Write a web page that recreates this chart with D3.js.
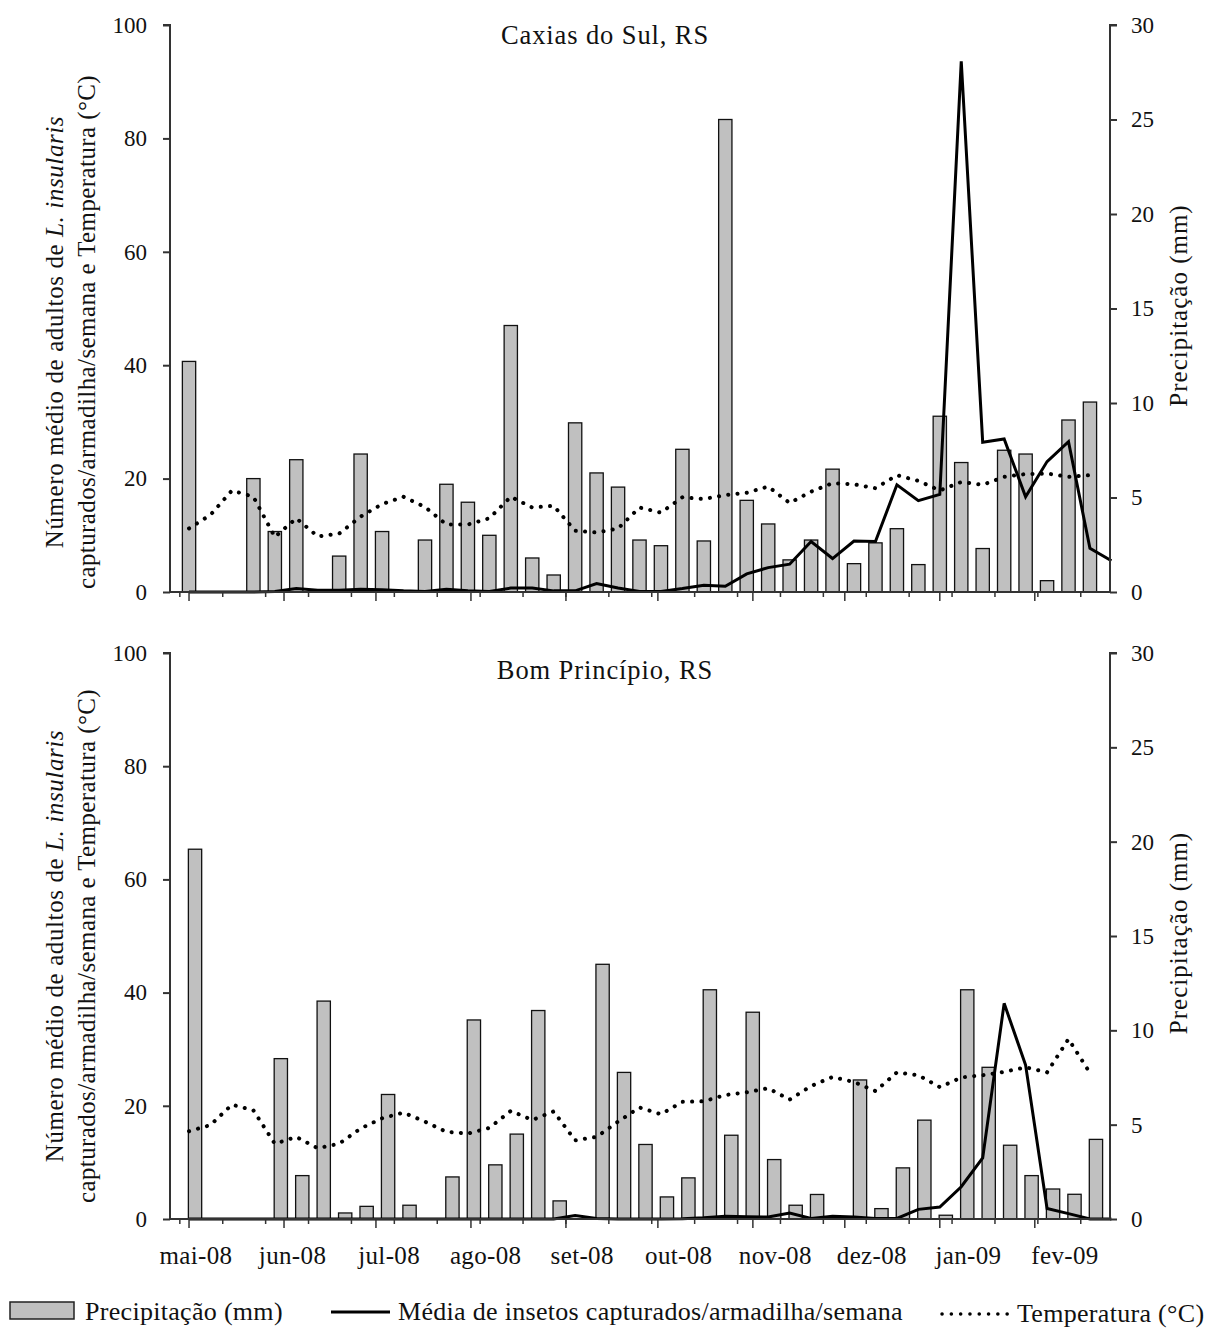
<!DOCTYPE html>
<html><head><meta charset="utf-8">
<script src="https://cdn.jsdelivr.net/npm/d3@7"></script>
<style>
body{margin:0;background:#fff}
svg text{font-family:"Liberation Serif","Times New Roman",serif;fill:#111}
</style>
</head><body>
<svg id="c" width="1206" height="1328"></svg>
<script>
// ---------- data ----------
const monthLabels = ["mai-08","jun-08","jul-08","ago-08","set-08","out-08","nov-08","dez-08","jan-09","fev-09"];
const leftTicks = [0,20,40,60,80,100];
const rightTicks = [0,5,10,15,20,25,30];
const panelTitles = ["Caxias do Sul, RS","Bom Princípio, RS"];
const legendLabels = ["Precipitação (mm)","Média de insetos capturados/armadilha/semana","Temperatura (°C)"];
const firstWeek = new Date(Date.UTC(2008,4,1));

// weekly precipitation (mm), right axis
const precipCaxias = [12.2,0,0,6.0,3.2,7.0,0,1.9,7.3,3.2,0,2.75,5.7,4.75,3.0,14.1,1.8,0.9,8.95,6.3,5.55,
  2.75,2.45,7.55,2.7,25.0,4.85,3.6,1.7,2.75,6.5,1.5,2.6,3.35,1.45,9.3,6.85,2.3,7.5,7.3,0.6,9.1,10.05];
// mean insects / trap / week, left axis
const insectsCaxias = [0,0,0,0,0.1,0.6,0.3,0.3,0.5,0.4,0.2,0.1,0.5,0.2,0.1,0.7,0.7,0.2,0.2,1.5,0.7,
  0.1,0.1,0.6,1.2,1.0,3.2,4.3,4.9,8.9,5.9,9.0,8.9,18.9,16.1,17.2,93.6,26.4,27.0,16.8,23.0,26.5,7.7,5.5];
// temperature (°C), left axis
const tempCaxias = [11.2,13.6,17.9,16.8,9.7,13.0,9.8,10.3,13.3,15.5,16.8,15.0,11.9,11.9,13.0,16.8,14.9,15.2,10.8,10.5,11.2,
  14.9,14.0,16.7,16.4,17.1,17.5,18.6,15.7,17.7,19.2,19.0,18.3,20.6,19.6,17.9,19.4,18.9,20.3,20.8,20.9,20.3,20.6];

const precipBom = [19.6,0,0,0,8.5,2.3,11.55,0.32,0.67,6.6,0.73,0,2.23,10.55,2.87,4.5,11.05,0.96,0,13.5,7.77,
  3.95,1.17,2.18,12.15,4.44,10.96,3.15,0.73,1.3,0,7.37,0.55,2.71,5.24,0.2,12.15,8.04,3.91,2.3,1.59,1.31,4.22];
const insectsBom = [0,0,0,0,0,0,0,0,0,0,0,0,0,0,0,0,0,0,0.6,0.1,0,
  0,0,0.05,0.2,0.5,0.4,0.35,1.05,0.1,0.5,0.35,0.1,0.1,1.7,2.1,5.7,10.8,38.1,27.2,1.85,0.95,0,0];
const tempBom = [15.5,16.6,20.2,19.2,13.3,14.5,12.5,13.3,16.0,17.8,18.8,17.2,15.4,15.1,16.1,19.1,17.5,19.0,13.9,14.5,17.2,
  19.7,18.5,20.7,20.8,21.9,22.4,23.1,21.1,23.5,25.1,24.2,22.6,25.9,25.4,23.3,25.0,25.4,26.0,26.8,25.9,31.8,25.8];

// ---------- layout ----------
const svg = d3.select("#c");
const X0 = 170, X1 = 1110;
const week = i => d3.utcDay.offset(firstWeek, 7*i);
const x = d3.scaleUtc()
  .domain([d3.utcHour.offset(firstWeek, -149), d3.utcHour.offset(firstWeek, 7213)])
  .range([X0, X1]);
const monthTicks = d3.utcMonth.range(firstWeek, x.domain()[1]);
const minorTicks = d3.range(0, 22).map(k => d3.utcDay.offset(firstWeek, -3 + 14*k));
const labelX = d3.scalePoint().domain(monthLabels).range([196, 1065]);
const axisColor = "#333";

const panels = [
  {title: panelTitles[0], top: 25, bottom: 592, precip: precipCaxias, insects: insectsCaxias, temp: tempCaxias, barShift: 0, titleY: 332, headY: 43.5},
  {title: panelTitles[1], top: 653, bottom: 1219, precip: precipBom, insects: insectsBom, temp: tempBom, barShift: 6, titleY: 946, headY: 679}
];

panels.forEach((p, pi) => {
  const g = svg.append("g");
  const yL = d3.scaleLinear().domain([0,100]).range([p.bottom, p.top]);
  const yR = d3.scaleLinear().domain([0,30]).range([p.bottom, p.top]);
  const bw = 13.3;

  // bars
  g.append("g").selectAll("rect").data(p.precip).join("rect")
    .attr("x", (d,i) => x(week(i)) + p.barShift - bw/2)
    .attr("y", d => yR(d))
    .attr("width", bw)
    .attr("height", d => yR(0) - yR(d))
    .attr("fill", "#c0c0c0")
    .attr("stroke", "#111")
    .attr("stroke-width", 1.3);

  // temperature dotted line
  g.append("path").datum(p.temp)
    .attr("d", d3.line().x((d,i) => x(week(i))).y(d => yL(d)))
    .attr("fill", "none").attr("stroke", "#000")
    .attr("stroke-width", 4).attr("stroke-linecap", "round")
    .attr("stroke-dasharray", "0.1,9.2");

  // insects solid line
  g.append("path").datum(p.insects)
    .attr("d", d3.line().x((d,i) => x(week(i))).y(d => yL(d)))
    .attr("fill", "none").attr("stroke", "#000")
    .attr("stroke-width", 3).attr("stroke-linejoin", "miter");

  // x axis
  const xa = g.append("g");
  xa.append("line").attr("x1", X0).attr("x2", X1).attr("y1", p.bottom).attr("y2", p.bottom)
    .attr("stroke", axisColor).attr("stroke-width", 2);
  xa.selectAll("line.mi").data(minorTicks).join("line").attr("class","mi")
    .attr("x1", d => x(d)).attr("x2", d => x(d)).attr("y1", p.bottom).attr("y2", p.bottom + 5)
    .attr("stroke", axisColor).attr("stroke-width", 1.5);
  xa.selectAll("line.ma").data(monthTicks).join("line").attr("class","ma")
    .attr("x1", d => x(d)).attr("x2", d => x(d)).attr("y1", p.bottom).attr("y2", p.bottom + 9)
    .attr("stroke", axisColor).attr("stroke-width", 1.5);
  if (pi === 1) {
    xa.selectAll("text").data(monthLabels).join("text")
      .attr("x", d => labelX(d)).attr("y", p.bottom + 45)
      .attr("text-anchor", "middle").attr("font-size", 25).attr("letter-spacing", 0.35).text(d => d);
  }

  // left axis
  const la = g.append("g").attr("transform", `translate(${X0},0)`)
    .call(d3.axisLeft(yL).tickValues(leftTicks).tickSize(7).tickPadding(16).tickFormat(d3.format("d")));
  la.select(".domain").attr("stroke", axisColor).attr("stroke-width", 2).attr("d", `M-7,${p.top}H0V${p.bottom}`);
  la.selectAll(".tick line").attr("stroke", axisColor).attr("stroke-width", 2);
  la.selectAll(".tick text").attr("font-size", 23).attr("font-family", "Liberation Serif").attr("fill", "#111");

  // right axis
  const ra = g.append("g").attr("transform", `translate(${X1},0)`)
    .call(d3.axisRight(yR).tickValues(rightTicks).tickSize(7).tickPadding(14).tickFormat(d3.format("d")));
  ra.select(".domain").attr("stroke", axisColor).attr("stroke-width", 2).attr("d", `M7,${p.top}H0V${p.bottom}`);
  ra.selectAll(".tick line").attr("stroke", axisColor).attr("stroke-width", 2);
  ra.selectAll(".tick text").attr("font-size", 23).attr("font-family", "Liberation Serif").attr("fill", "#111");

  // panel title
  g.append("text").attr("x", 605).attr("y", p.headY).attr("text-anchor", "middle")
    .attr("font-size", 26.5).attr("letter-spacing", 0.9).text(p.title);

  // left axis title (two lines)
  const t1 = g.append("text").attr("transform", `translate(63,${p.titleY}) rotate(-90)`)
    .attr("text-anchor", "middle").attr("font-size", 25).attr("letter-spacing", 0.6);
  t1.append("tspan").text("Número médio de adultos de ");
  t1.append("tspan").attr("font-style", "italic").text("L. insularis");
  g.append("text").attr("transform", `translate(95,${p.titleY}) rotate(-90)`)
    .attr("text-anchor", "middle").attr("font-size", 25).attr("letter-spacing", 0.4)
    .text("capturados/armadilha/semana e Temperatura (°C)");

  // right axis title
  g.append("text").attr("transform", `translate(1187,${(p.top + p.bottom)/2 - 3}) rotate(-90)`)
    .attr("text-anchor", "middle").attr("font-size", 25).attr("letter-spacing", 1).text("Precipitação (mm)");
});

// ---------- legend ----------
const lg = svg.append("g");
const ly = 1312;
lg.append("rect").attr("x", 10).attr("y", ly - 10).attr("width", 64).attr("height", 17)
  .attr("fill", "#c0c0c0").attr("stroke", "#222").attr("stroke-width", 1.5);
lg.append("text").attr("x", 85).attr("y", ly + 8).attr("font-size", 26).attr("letter-spacing", 0.3).text(legendLabels[0]);
lg.append("line").attr("x1", 331).attr("x2", 390).attr("y1", ly).attr("y2", ly)
  .attr("stroke", "#000").attr("stroke-width", 3);
lg.append("text").attr("x", 398).attr("y", ly + 8).attr("font-size", 26).attr("letter-spacing", 0.3).text(legendLabels[1]);
lg.append("line").attr("x1", 942).attr("x2", 1008).attr("y1", ly + 2).attr("y2", ly + 2)
  .attr("stroke", "#000").attr("stroke-width", 3.5).attr("stroke-linecap", "round")
  .attr("stroke-dasharray", "0.1,9.2");
lg.append("text").attr("x", 1017).attr("y", ly + 10).attr("font-size", 26).attr("letter-spacing", 0.3).text(legendLabels[2]);
</script>
</body></html>
